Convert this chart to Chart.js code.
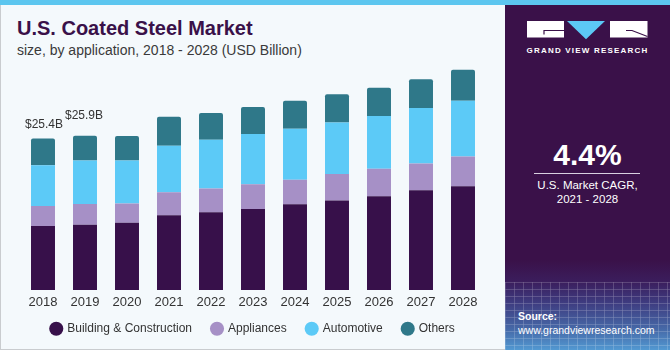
<!DOCTYPE html>
<html>
<head>
<meta charset="utf-8">
<script src="https://cdn.jsdelivr.net/npm/chart.js@4.4.1/dist/chart.umd.min.js"></script>
<style>
  html, body { margin: 0; padding: 0; }
  #wrap { position: relative; width: 670px; height: 350px; overflow: hidden; background: #f4f9fc; font-family: "Liberation Sans", Arial, sans-serif; }
  #stripe { position: absolute; left: 0; top: 0; width: 670px; height: 5px; background: #5cc6ef; }
  #lborder { position: absolute; left: 0; top: 5px; width: 1px; height: 345px; background: #c9cccf; }
  #bborder { position: absolute; left: 0; top: 349px; width: 505px; height: 1px; background: #c9cccf; }
  #panel { position: absolute; left: 505px; top: 5px; width: 165px; height: 345px;
    background: linear-gradient(to bottom, #3a1149 0%, #3a1149 74%, #3b1d5c 80%, #3e3a7e 86%, #4669a8 94%, #5299d2 100%); }
  #grid { position: absolute; left: 505px; top: 282px; width: 165px; height: 68px; opacity: 0.35;
    background-image: repeating-linear-gradient(to right, rgba(255,255,255,0.5) 0 1px, transparent 1px 9px),
                      repeating-linear-gradient(to bottom, rgba(255,255,255,0.5) 0 1px, transparent 1px 7px); }
  .t { position: absolute; white-space: nowrap; }
  #title { left: 17px; top: 18px; font-size: 20px; line-height: 20px; font-weight: bold; color: #3a1149; }
  #sub { left: 17px; top: 42.5px; font-size: 14px; line-height: 14px; color: #3a3a3a; }
  #gvr { left: 505px; width: 165px; text-align: center; top: 46.5px; font-size: 8px; line-height: 8px; font-weight: bold; color: #fff; letter-spacing: 1.2px; }
  #cagr { left: 505px; width: 165px; text-align: center; top: 140.3px; font-size: 30px; line-height: 30px; font-weight: bold; color: #fff; }
  #line { position: absolute; left: 534px; top: 173px; width: 106px; height: 1px; background: #d8d0e0; }
  #c1 { left: 505px; width: 165px; text-align: center; top: 180.3px; font-size: 11.5px; line-height: 11.5px; color: #fff; }
  #c2 { left: 505px; width: 165px; text-align: center; top: 194.3px; font-size: 11.5px; line-height: 11.5px; color: #fff; }
  #src1 { left: 518px; top: 311.1px; font-size: 10.5px; line-height: 10.5px; font-weight: bold; color: #fff; }
  #src2 { left: 518px; top: 325.1px; font-size: 10.5px; line-height: 10.5px; color: #fff; }
  #chart { position: absolute; left: 0; top: 0; }
</style>
</head>
<body>
<div id="wrap">
  <div id="stripe"></div>
  <div id="panel"></div>
  <div id="grid"></div>
  <div id="lborder"></div>
  <div id="bborder"></div>
  <svg style="position:absolute;left:0;top:0" width="670" height="60">
    <rect x="527" y="21" width="37" height="16.5" fill="#ffffff"/>
    <polyline points="544,34.5 544,30.5 564,30.5" stroke="#3a1149" stroke-width="1.2" fill="none"/>
    <polygon points="567,21 605,21 586,39.3" fill="#5cc8f5"/>
    <rect x="610" y="21" width="37.5" height="16.5" fill="#ffffff"/>
    <polyline points="626,30.5 632,30.5 647.5,36.5" stroke="#3a1149" stroke-width="1.2" fill="none"/>
  </svg>
  <div class="t" id="title">U.S. Coated Steel Market</div>
  <div class="t" id="sub">size, by application, 2018 - 2028 (USD Billion)</div>
  <div class="t" id="gvr">GRAND VIEW RESEARCH</div>
  <div class="t" id="cagr">4.4%</div>
  <div id="line"></div>
  <div class="t" id="c1">U.S. Market CAGR,</div>
  <div class="t" id="c2">2021 - 2028</div>
  <div class="t" id="src1">Source:</div>
  <div class="t" id="src2">www.grandviewresearch.com</div>
  <canvas id="chart" width="505" height="364"></canvas>
</div>
<script>
const years = ['2018','2019','2020','2021','2022','2023','2024','2025','2026','2027','2028'];
const building   = [10.73, 10.95, 11.28, 12.55, 13.05, 13.60, 14.38, 15.04, 15.75, 16.75, 17.41];
const appliances = [3.37, 3.48, 3.22, 3.86, 3.98, 4.15, 4.10, 4.43, 4.59, 4.48, 4.98];
const automotive = [6.85, 7.30, 7.23, 7.79, 8.18, 8.41, 8.56, 8.62, 8.84, 9.29, 9.35];
const others     = [4.48, 4.15, 4.10, 4.88, 4.48, 4.53, 4.71, 4.74, 4.76, 4.81, 5.19];
const valueLabels = ['$25.4B', '$25.9B'];

const valueLabelPlugin = {
  id: 'valueLabels',
  afterDatasetsDraw(chart, args, opts) {
    const meta = chart.getDatasetMeta(chart.data.datasets.length - 1);
    const ctx = chart.ctx;
    ctx.save();
    ctx.font = '12px "Liberation Sans", Arial, sans-serif';
    ctx.fillStyle = '#333333';
    ctx.textAlign = 'center';
    ctx.textBaseline = 'middle';
    valueLabels.forEach((txt, i) => {
      const el = meta.data[i];
      if (!el || !txt) return;
      ctx.fillText(txt, el.x + (opts.dx[i] || 0), el.y - (opts.dy[i] || 14));
    });
    ctx.restore();
  }
};

const legendShift = {
  id: 'legendShift',
  afterLayout(chart, args, opts) {
    if (chart.legend) {
      chart.legend.top -= opts.shift;
      chart.legend.bottom -= opts.shift;
    }
  }
};

const common = { categoryPercentage: 1.0, barPercentage: 0.571, borderWidth: 0 };

new Chart(document.getElementById('chart'), {
  type: 'bar',
  data: {
    labels: years,
    datasets: [
      Object.assign({ label: 'Building & Construction', data: building, backgroundColor: '#37104a' }, common),
      Object.assign({ label: 'Appliances', data: appliances, backgroundColor: '#a690c6' }, common),
      Object.assign({ label: 'Automotive', data: automotive, backgroundColor: '#5ccaf7' }, common),
      Object.assign({ label: 'Others', data: others, backgroundColor: '#2f7889',
        borderRadius: { topLeft: 2, topRight: 2, bottomLeft: 0, bottomRight: 0 }, borderSkipped: 'start' }, common)
    ]
  },
  options: {
    responsive: false,
    animation: false,
    devicePixelRatio: 1,
    layout: { padding: { left: 22, right: 21, top: 51.5, bottom: 6.3 } },
    scales: {
      x: {
        stacked: true,
        grid: { display: false, drawTicks: false },
        border: { display: false },
        ticks: { color: '#333333', font: { family: '"Liberation Sans", Arial, sans-serif', size: 13 }, padding: 5 }
      },
      y: { stacked: true, display: false, min: 0, max: 40 }
    },
    plugins: {
      legend: {
        position: 'bottom',
        labels: {
          usePointStyle: true, pointStyle: 'circle', boxWidth: 10, boxHeight: 10, padding: 20,
          color: '#333333', font: { family: '"Liberation Sans", Arial, sans-serif', size: 12 }
        }
      },
      tooltip: { enabled: false },
      valueLabels: { dx: [1, -1], dy: [14, 20] },
      legendShift: { shift: 13 }
    }
  },
  plugins: [valueLabelPlugin, legendShift]
});
</script>
</body>
</html>
